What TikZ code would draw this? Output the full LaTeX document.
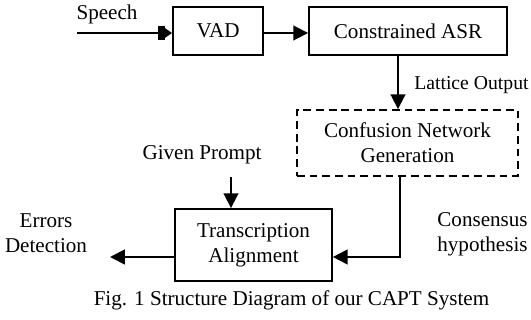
\documentclass[tikz,border=0pt]{standalone}
\usepackage{fontspec}
\setmainfont{Liberation Serif}
\usetikzlibrary{arrows.meta}
\tikzset{
  blk/.style={draw,line width=1.3pt,minimum height=1.2cm,align=center,inner sep=0pt},
  flow/.style={line width=1.3pt,-{Triangle[length=10.5pt,width=10.5pt]}},
}
\begin{document}
\begin{tikzpicture}[x=0.025cm,y=-0.025cm,font=\fontsize{15}{18}\selectfont]
\useasboundingbox (0,0) rectangle (531,320);
% blocks
\node[blk,minimum width=2.25cm] (vad) at (218,31) {VAD};
\node[blk,minimum width=4.95cm] (asr) at (408,31) {Constrained ASR};
\node[blk,dashed,dash pattern=on 5.5pt off 3.5pt,minimum width=5.52cm,minimum height=1.65cm] (cng) at (407.5,143) {Confusion Network\\Generation};
\node[blk,minimum width=3.92cm,minimum height=1.8cm] (ta) at (253.5,245) {Transcription\\Alignment};
% labels
\node (speech) at (107,14) {Speech};
\node[anchor=west,inner sep=0pt,font=\fontsize{14}{17}\selectfont] (lattice) at (414,85) {Lattice Output};
\node (prompt) at (202,155) {Given Prompt};
\node[align=center] (errors) at (46,233) {Errors\\Detection};
\node[align=center] (consensus) at (482.5,234.5) {Consensus\\hypothesis};
\node (caption) at (291.5,300) {Fig. 1 Structure Diagram of our CAPT System};
% connectors
\coordinate (in) at (77,33);
\coordinate (lat) at (398,0);
\coordinate (gp) at (231,177);
\coordinate (bend) at (400,257);
\coordinate (out) at (110,257);
\draw[line width=1.3pt,-{Bar[width=10.5pt,line width=5pt]Triangle[length=5pt,width=6.5pt]}] (in) -- (vad.west |- in);
\draw[flow] (vad.east |- in) -- (asr.west |- in);
\draw[flow] (asr.south -| lat) -- (cng.north -| lat);
\draw[flow] (cng.south -| bend) |- (ta.east |- bend);
\draw[flow] (gp) -- (ta.north -| gp);
\draw[flow] (ta.west |- out) -- (out);
\end{tikzpicture}
\end{document}
